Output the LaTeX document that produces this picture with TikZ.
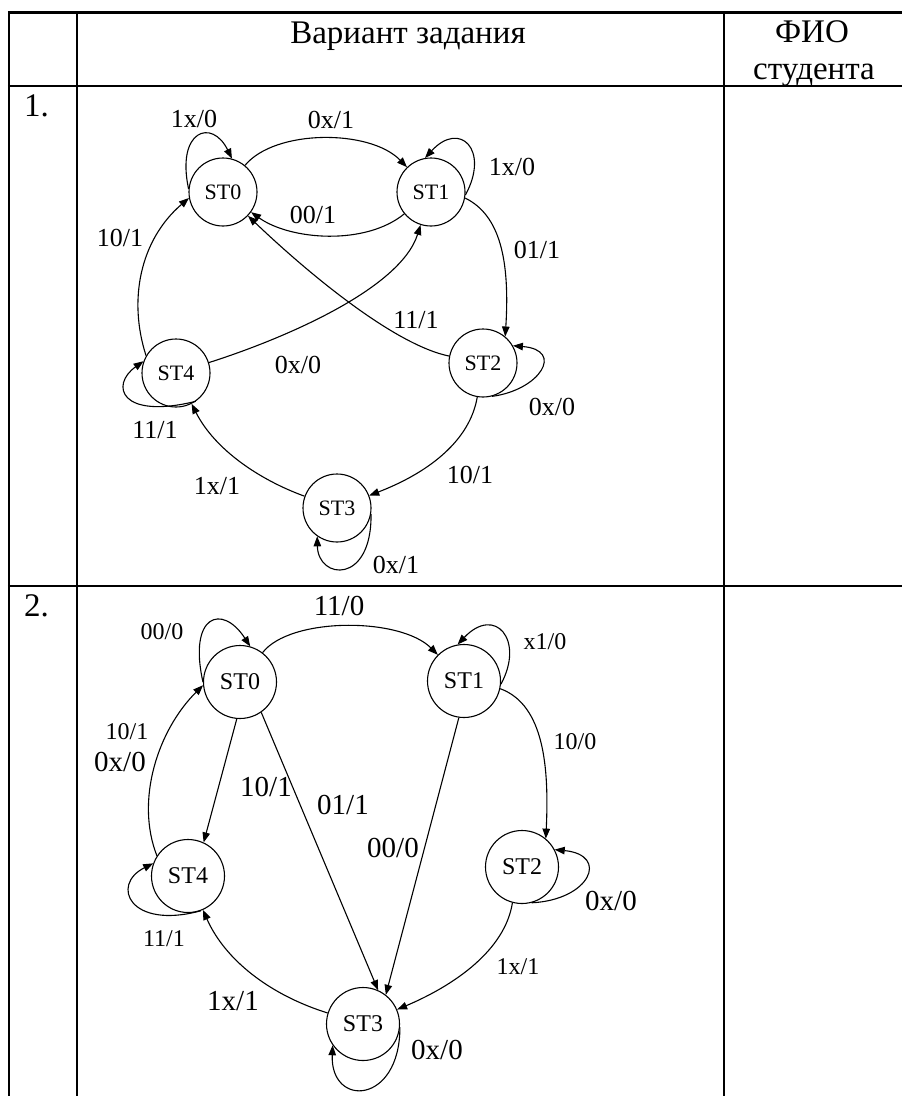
\documentclass[tikz,border=0pt]{standalone}
\usepackage{fontspec}
\setmainfont{Liberation Serif}
\usetikzlibrary{arrows.meta}
\newcommand\hdrsz{\fontsize{33}{39}\selectfont}
\newcommand\lblsz{\fontsize{26}{30}\selectfont}
\newcommand\bigsz{\fontsize{29}{32}\selectfont}
\newcommand\thinsz{\fontsize{24}{28}\selectfont}
\newcommand\stsz{\fontsize{22}{26}\selectfont}
\newcommand\stbsz{\fontsize{24}{28}\selectfont}
\begin{document}
\begin{tikzpicture}[x=1pt,y=-1pt,
  tbl/.style={line width=2.4pt},
  stA/.style={circle,draw,line width=1.1pt,minimum size=68pt,inner sep=0pt,font=\stsz},
  stB/.style={stA,minimum size=73pt,font=\stbsz},
  lbl/.style={font=\lblsz,inner sep=0pt},
  lbb/.style={font=\bigsz,inner sep=0pt},
  lbt/.style={font=\thinsz,inner sep=0pt},
  hdr/.style={font=\hdrsz,inner sep=0pt,anchor=base},
  arr/.style={line width=1.1pt,-{Triangle[length=10pt,width=7.5pt]}}]
\useasboundingbox (0,0) rectangle (902,1096);
\fill[white] (0,0) rectangle (902,1096);
% table
\draw[tbl] (7.8,12.5) -- (902,12.5);
\draw[tbl] (7.8,86) -- (902,86);
\draw[tbl] (7.8,586) -- (902,586);
\draw[tbl] (9,11.3) -- (9,1096);
\draw[tbl] (77,11.3) -- (77,1096);
\draw[tbl] (724,11.3) -- (724,1096);
\node[hdr] (h1) at (408,43) {Вариант задания};
\node[hdr] (h2) at (812,42) {ФИО};
\node[hdr] (h3) at (814,79) {студента};
\node[hdr,anchor=base west] (r1) at (24,116) {1.};
\node[hdr,anchor=base west] (r2) at (24,616) {2.};

% ---------- diagram 1 ----------
\node[stA] (a0) at (223,192) {ST0};
\node[stA] (a1) at (431,192) {ST1};
\node[stA] (a2) at (483,363) {ST2};
\node[stA] (a3) at (337,508) {ST3};
\node[stA] (a4) at (176,373) {ST4};

\draw[arr] (a0.175) .. controls (176,130) and (212,118) .. (a0.75);
\draw[arr] (a0) .. controls (275,129) and (370,129) .. (a1);
\draw[arr] (a1.355) .. controls (490,150) and (460,120) .. (a1.100);
\draw[arr] (a1) .. controls (365,246) and (290,240) .. (a0);
\draw[arr] (a2) .. controls (395,345) and (310,275) .. (a0);
\draw[arr] (a4) .. controls (280,340) and (400,290) .. (a1);
\draw[arr] (a4.150) .. controls (128,300) and (140,240) .. (a0.190);
\draw[arr] (a4.-55) .. controls (120,420) and (110,385) .. (a4.160);
\draw[arr] (a3) .. controls (260,480) and (215,450) .. (a4);
\draw[arr] (a2) .. controls (470,440) and (430,472) .. (a3);
\draw[arr] (a3.-10) .. controls (372,585) and (318,580) .. (a3.235);
\draw[arr] (a1.-10) .. controls (500,215) and (510,260) .. (a2.50);
\draw[arr] (a2.-75) .. controls (540,390) and (565,350) .. (a2.30);

\node[lbl] (la1) at (194,119) {1x/0};
\node[lbl] (la2) at (331,120) {0x/1};
\node[lbl] (la3) at (512,167) {1x/0};
\node[lbl] (la4) at (313,215) {00/1};
\node[lbl] (la5) at (120,238) {10/1};
\node[lbl] (la6) at (537,250) {01/1};
\node[lbl] (la7) at (416,320) {11/1};
\node[lbl] (la8) at (298,365) {0x/0};
\node[lbl] (la9) at (552,407) {0x/0};
\node[lbl] (la10) at (155,430) {11/1};
\node[lbl] (la11) at (217,486) {1x/1};
\node[lbl] (la12) at (470,475) {10/1};
\node[lbl] (la13) at (396,565) {0x/1};

% ---------- diagram 2 ----------
\node[stB] (b0) at (240,682) {ST0};
\node[stB] (b1) at (464,681) {ST1};
\node[stB] (b2) at (522,867) {ST2};
\node[stB] (b3) at (363,1024) {ST3};
\node[stB] (b4) at (188,876) {ST4};

\draw[arr] (b0.180) .. controls (188,615) and (222,603) .. (b0.74);
\draw[arr] (b0) .. controls (290,617) and (400,617) .. (b1);
\draw[arr] (b1.355) .. controls (525,640) and (495,605) .. (b1.100);
\draw[arr] (b1.-12) .. controls (545,705) and (549,770) .. (b2.50);
\draw[arr] (b2.-75) .. controls (590,900) and (610,855) .. (b2.28);
\draw[arr] (b2.-105) .. controls (505,950) and (455,985) .. (b3);
\draw[arr] (b1.-98) -- (b3.52);
\draw[arr] (b0.-55) -- (b3.66);
\draw[arr] (b0.-95) -- (b4.65);
\draw[arr] (b4.147) .. controls (135,800) and (158,730) .. (b0.185);
\draw[arr] (b4.-70) .. controls (130,930) and (110,885) .. (b4.160);
\draw[arr] (b3) .. controls (270,995) and (225,960) .. (b4);
\draw[arr] (b3.-5) .. controls (400,1105) and (330,1108) .. (b3.215);

\node[lbt] (lb1) at (162,632) {00/0};
\node[lbb] (lb2) at (339,606) {11/0};
\node[lbt] (lb3) at (545,642) {x1/0};
\node[lbt] (lb4) at (127,732) {10/1};
\node[lbb] (lb5) at (120,762) {0x/0};
\node[lbt] (lb6) at (575,742) {10/0};
\node[lbb] (lb7) at (266,787) {10/1};
\node[lbb] (lb8) at (343,805) {01/1};
\node[lbb] (lb9) at (393,848) {00/0};
\node[lbb] (lb10) at (611,901) {0x/0};
\node[lbt] (lb11) at (164,939) {11/1};
\node[lbt] (lb12) at (518,967) {1x/1};
\node[lbb] (lb13) at (233,1001) {1x/1};
\node[lbb] (lb14) at (437,1050) {0x/0};
\end{tikzpicture}
\end{document}
